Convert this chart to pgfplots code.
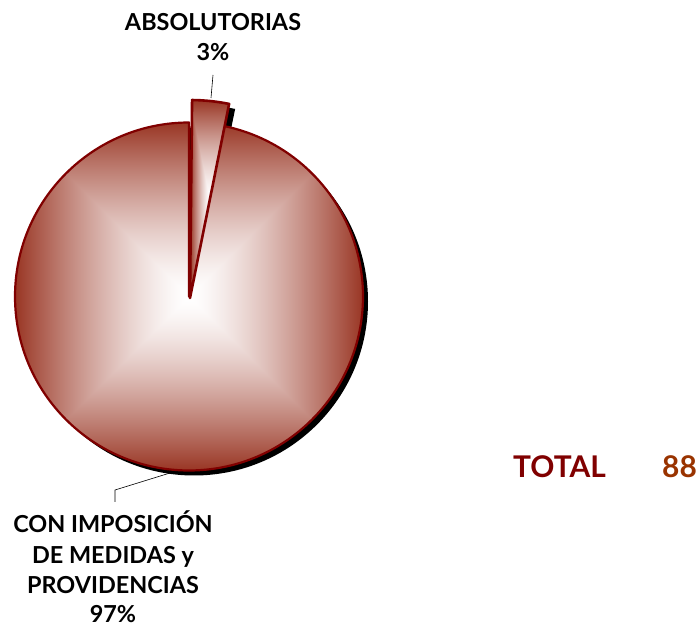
\documentclass[border=0pt]{standalone}
\usepackage{pgfplots}
\pgfplotsset{compat=1.18}
\usepackage{pgfplotstable}
\usepackage{fontspec}
\setmainfont{Lato}
\definecolor{pieedge}{RGB}{128,0,0}
\definecolor{totred}{RGB}{128,0,0}
\definecolor{totbrown}{RGB}{153,51,0}
% square "from centre" gradient: white centre, dark red rim
\pgfdeclarefunctionalshading{sqgrad}{\pgfpoint{-50bp}{-50bp}}{\pgfpoint{50bp}{50bp}}{}{
abs exch abs 2 copy lt {exch} if pop 25 div
dup 1 gt {pop 1} if
1.4 exp
dup 0.40 mul 1 exch sub exch
dup 0.79 mul 1 exch sub exch
0.86 mul 1 exch sub
}
\pgfplotstableread{
label value
medidas 97
absolutorias 3
}\piedata
\begin{document}
\begin{tikzpicture}
\pgfplotstablegetelem{0}{value}\of\piedata \let\vA\pgfplotsretval
\pgfplotstablegetelem{1}{value}\of\piedata \let\vB\pgfplotsretval
\pgfmathsetmacro{\spanA}{\vA/(\vA+\vB)*360}
\pgfmathsetmacro{\spanB}{\vB/(\vA+\vB)*360}
\pgfmathsetmacro{\endA}{90+\spanA}
\pgfmathsetmacro{\startB}{89.4-\spanB}
\begin{axis}[x=1bp,y=1bp,xmin=0,xmax=700,ymin=0,ymax=629,hide axis,clip=false,
  scale only axis]
  % shadows
  \fill[black] (axis cs:194,327.5) circle[radius=174];
  \fill[black] (axis cs:196,326) -- ++(\startB:198) arc[start angle=\startB, end angle=89.4, radius=198] -- cycle;
  % big slice
  \shade[shading=sqgrad] (axis cs:189,332.5) -- ++(90:174) arc[start angle=90,end angle=\endA,radius=174] -- cycle;
  \draw[pieedge,line width=2.2bp,line join=round] (axis cs:189,332.5) -- ++(90:174) arc[start angle=90,end angle=\endA,radius=174] -- cycle;
  % small exploded slice
  \shade[shading=sqgrad] (axis cs:190,331) -- ++(\startB:198) arc[start angle=\startB, end angle=89.4, radius=198] -- cycle;
  \draw[pieedge,line width=2.6bp,line join=round] (axis cs:190,331) -- ++(\startB:198) arc[start angle=\startB, end angle=89.4, radius=198] -- cycle;
  % leader lines
  \draw[black,line width=0.6bp] (axis cs:211,531) -- (axis cs:213,554);
  \draw[black,line width=0.6bp] (axis cs:170,156) -- (axis cs:115,139) -- (axis cs:115,127);
  % labels
  \node[anchor=base,font=\bfseries\fontsize{23.5}{28}\selectfont,inner sep=0] at (axis cs:213,598) {ABSOLUTORIAS};
  \node[anchor=base,font=\bfseries\fontsize{23.5}{28}\selectfont,inner sep=0] at (axis cs:213,568) {3\%};
  \node[anchor=base,font=\bfseries\fontsize{23.5}{28}\selectfont,inner sep=0] at (axis cs:113,97) {CON IMPOSICIÓN};
  \node[anchor=base,font=\bfseries\fontsize{23.5}{28}\selectfont,inner sep=0] at (axis cs:113,66) {DE MEDIDAS y};
  \node[anchor=base,font=\bfseries\fontsize{23.5}{28}\selectfont,inner sep=0] at (axis cs:113,36) {PROVIDENCIAS};
  \node[anchor=base,font=\bfseries\fontsize{23.5}{28}\selectfont,inner sep=0] at (axis cs:113,7) {97\%};
  \node[anchor=base west,font=\bfseries\fontsize{30}{34}\selectfont,inner sep=0,text=totred] at (axis cs:513,152) {TOTAL};
  \node[anchor=base west,font=\bfseries\fontsize{30}{34}\selectfont,inner sep=0,text=totbrown] at (axis cs:662,152) {88};
\end{axis}
\path (0,0) rectangle (700bp,629bp);
\end{tikzpicture}
\end{document}
